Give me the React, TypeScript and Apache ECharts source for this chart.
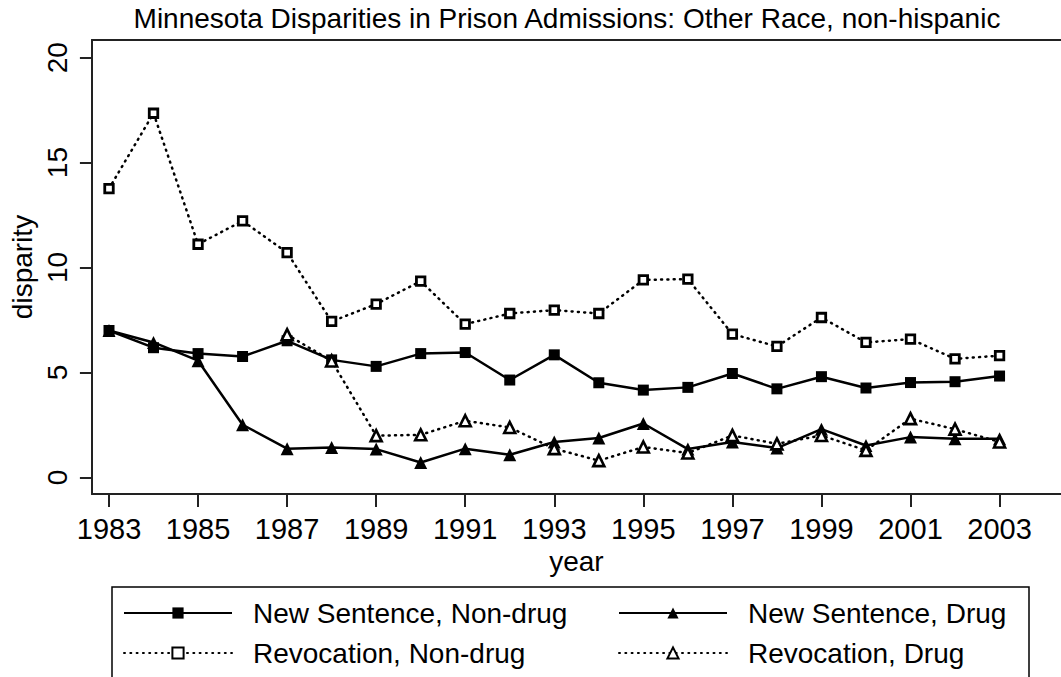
import React, { useEffect, useRef } from "react";
import * as echarts from "echarts";

const years = [1983, 1984, 1985, 1986, 1987, 1988, 1989, 1990, 1991, 1992, 1993, 1994, 1995, 1996, 1997, 1998, 1999, 2000, 2001, 2002, 2003];
const newSentenceNonDrug = [7.0, 6.18, 5.9, 5.76, 6.51, 5.6, 5.29, 5.9, 5.95, 4.64, 5.84, 4.51, 4.16, 4.29, 4.95, 4.22, 4.8, 4.26, 4.52, 4.56, 4.83];
const newSentenceDrug = [7.0, 6.43, 5.56, 2.51, 1.37, 1.43, 1.35, 0.71, 1.37, 1.08, 1.69, 1.88, 2.57, 1.35, 1.69, 1.4, 2.3, 1.52, 1.92, 1.84, 1.84];
const revocationNonDrug = [13.76, 17.35, 11.11, 12.22, 10.71, 7.43, 8.26, 9.35, 7.3, 7.81, 7.97, 7.81, 9.41, 9.45, 6.83, 6.24, 7.62, 6.43, 6.59, 5.65, 5.8];
const revocationDrug = [null, null, null, null, 6.8, 5.55, 1.99, 2.03, 2.7, 2.38, 1.37, 0.8, 1.45, 1.16, 2.0, 1.6, 2.0, 1.29, 2.8, 2.3, 1.69];
const xTicks = [1983, 1985, 1987, 1989, 1991, 1993, 1995, 1997, 1999, 2001, 2003];
const yTicks = [0, 5, 10, 15, 20];
const names = ["New Sentence, Non-drug", "New Sentence, Drug", "Revocation, Non-drug", "Revocation, Drug"];
const titleText = "Minnesota Disparities in Prison Admissions: Other Race, non-hispanic";

export default function App() {
  const ref = useRef<HTMLDivElement>(null);
  useEffect(() => {
    const chart = echarts.init(ref.current!, null, { renderer: "svg" });
    const font = "'Liberation Sans', Arial, Helvetica, sans-serif";
    const pairs = (vals: (number | null)[]) =>
      years.map((y, i) => [y, vals[i]]).filter((p) => p[1] !== null);
    const solid = { type: "solid", width: 2.5, color: "#000" };
    const dotted = { type: [1, 5.3], width: 2.5, color: "#000", cap: "round" };
    const axisColor = "#222";
    const xMin = 1982.616;
    const xMax = 2004.38;
    const txt = { fontSize: 28, color: "#000", fontFamily: font };
    const tickTxt = { fontSize: 29, color: "#000", fontFamily: font };
    chart.setOption({
      animation: false,
      backgroundColor: "#fff",
      title: {
        text: titleText,
        left: 567,
        top: 4,
        textAlign: "center",
        padding: 0,
        textStyle: { ...txt, fontWeight: "normal" },
      },
      grid: { left: 81, right: 0, top: 40, bottom: 183, containLabel: false },
      xAxis: [
        {
          type: "value",
          position: "bottom",
          min: xMin,
          max: xMax,
          axisLine: { show: true, onZero: false, lineStyle: { color: axisColor, width: 2 } },
          axisTick: { show: true, length: 13, customValues: xTicks, lineStyle: { color: axisColor, width: 2 } },
          axisLabel: { customValues: xTicks, margin: 20, ...tickTxt, formatter: (v: number) => String(v) },
          splitLine: { show: false },
          name: "year",
          nameLocation: "middle",
          nameGap: 48,
          nameTextStyle: txt,
        },
        {
          type: "value",
          position: "top",
          min: xMin,
          max: xMax,
          axisLine: { show: true, onZero: false, lineStyle: { color: axisColor, width: 2 } },
          axisTick: { show: false },
          axisLabel: { show: false },
          splitLine: { show: false },
        },
      ],
      yAxis: {
        type: "value",
        min: -0.79,
        max: 20.84,
        axisLine: { show: true, onZero: false, lineStyle: { color: axisColor, width: 2 } },
        axisTick: { show: true, length: 12, customValues: yTicks, lineStyle: { color: axisColor, width: 2 } },
        axisLabel: { customValues: yTicks, rotate: 90, margin: 20, ...txt },
        splitLine: { show: false },
        name: "disparity",
        nameLocation: "middle",
        nameGap: 52,
        nameTextStyle: txt,
      },
      legend: [
        {
          left: 123,
          top: 599,
          orient: "vertical",
          padding: 0,
          itemWidth: 108,
          itemHeight: 14,
          itemGap: 12,
          data: [names[0], names[2]],
          textStyle: { ...txt, lineHeight: 28, padding: [0, 0, 0, 16] },
        },
        {
          left: 618,
          top: 599,
          orient: "vertical",
          padding: 0,
          itemWidth: 108,
          itemHeight: 14,
          itemGap: 12,
          data: [names[1], names[3]],
          textStyle: { ...txt, lineHeight: 28, padding: [0, 0, 0, 16] },
        },
      ],
      graphic: [
        {
          type: "rect",
          silent: true,
          shape: { x: 112, y: 587, width: 917, height: 200 },
          style: { fill: "none", stroke: "#000", lineWidth: 1.5 },
        },
      ],
      series: [
        {
          name: names[0],
          type: "line",
          data: pairs(newSentenceNonDrug),
          symbol: "rect",
          symbolSize: 11,
          lineStyle: solid,
          itemStyle: { color: "#000" },
          z: 2,
        },
        {
          name: names[1],
          type: "line",
          data: pairs(newSentenceDrug),
          symbol: "triangle",
          symbolSize: 13,
          lineStyle: solid,
          itemStyle: { color: "#000" },
          z: 2,
        },
        {
          name: names[2],
          type: "line",
          data: pairs(revocationNonDrug),
          symbol: "rect",
          symbolSize: 8.5,
          showAllSymbol: true,
          lineStyle: dotted,
          itemStyle: { color: "#fff", borderColor: "#000", borderWidth: 2.8 },
          z: 3,
        },
        {
          name: names[3],
          type: "line",
          data: pairs(revocationDrug),
          symbol: "triangle",
          symbolSize: 11,
          lineStyle: dotted,
          itemStyle: { color: "#fff", borderColor: "#000", borderWidth: 2.6 },
          z: 3,
        },
      ],
    });
    return () => chart.dispose();
  }, []);
  return (
    <div
      ref={ref}
      style={{ position: "fixed", left: 0, top: 0, width: 1061, height: 677, background: "#fff" }}
    />
  );
}
